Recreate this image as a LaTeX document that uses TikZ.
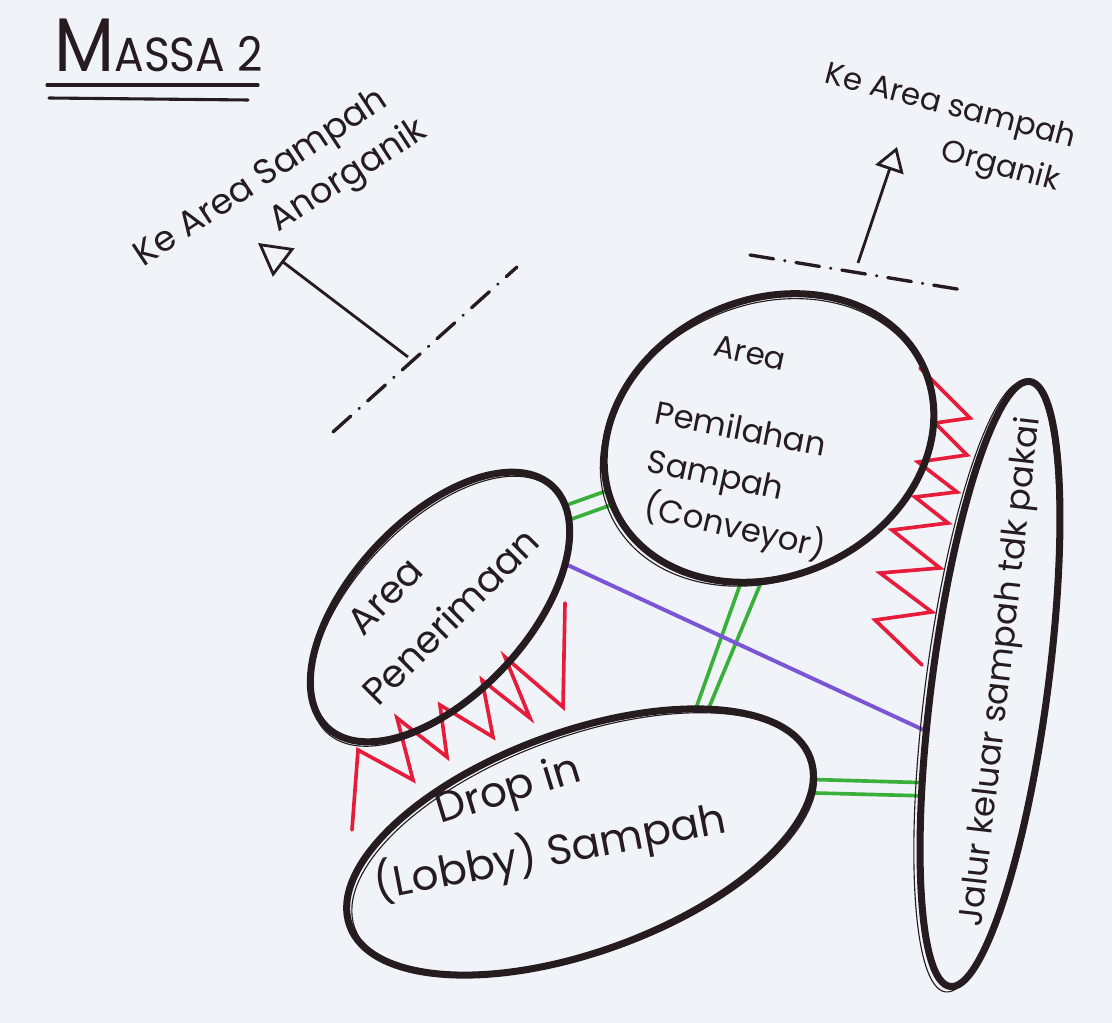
\documentclass[tikz,border=0pt]{standalone}
\usepackage{fontspec}
\setmainfont{Poppins}
\usetikzlibrary{shapes.geometric,arrows.meta}
\pgfdeclarelayer{paper}
\pgfdeclarelayer{links}
\pgfsetlayers{paper,links,main}
\definecolor{paper}{RGB}{240,244,249}
\definecolor{ink}{RGB}{38,28,32}
\definecolor{zigred}{RGB}{230,28,58}
\definecolor{linkgreen}{RGB}{58,176,58}
\definecolor{linkpurple}{RGB}{122,86,214}

\begin{document}
\begin{tikzpicture}[x=0.025cm, y=-0.025cm,
  region/.style 2 args={ellipse, draw=ink, line width=5pt, inner sep=0pt,
    outer sep=0pt, minimum width=#1, minimum height=#2},
  trace/.style={draw=ink, line width=0.8pt},
  hand/.style={text=ink, inner sep=0pt, font=\fontsize{#1}{#1}\selectfont},
  underline/.style={draw=ink, line width=2.2pt, line cap=round},
  boundary/.style={draw=ink, line width=2.4pt, line cap=round,
    dash pattern=on 17pt off 8pt on 0.1pt off 8pt},
  pointer/.style={draw=ink, line width=2pt},
  zigzag/.style={draw=zigred, line width=2.6pt, line cap=round},
  greenlink/.style={draw=linkgreen, line width=2.6pt},
  purplelink/.style={draw=linkpurple, line width=2.8pt, line cap=round}]

\useasboundingbox (0,0) rectangle (1112,1023);
\begin{pgfonlayer}{paper}
  \fill[paper] (0,0) rectangle (1112,1023);
\end{pgfonlayer}

% title
\node[hand=34, anchor=base west] (title) at (54,72)
  {\scalebox{0.92}[1]{{\fontsize{54}{54}\selectfont M}ASSA 2}};
\draw[underline] (47,85) -- (258,85);
\draw[underline] (49,98) -- (248,100);

% exits to the waste areas
\node[hand=25, rotate=33.5] (anoLa) at (262,179) {Ke Area Sampah};
\node[hand=25, rotate=33] (anoLb) at (349,177) {Anorganik};
\coordinate (anoA) at (333,432);
\coordinate (anoB) at (517,267);
\coordinate (anoTail) at (408,357);
\coordinate (anoTip) at (258,243);
\draw[boundary] (anoA) -- (anoB);
\draw[pointer, -{Triangle[open, length=23pt, width=25pt]}] (anoTail) -- (anoTip);

\node[hand=22, rotate=-14.5] (orgLa) at (950,108) {Ke Area sampah};
\node[hand=22, rotate=-15] (orgLb) at (1000,168) {Organik};
\coordinate (orgA) at (750,255);
\coordinate (orgB) at (963,290);
\coordinate (orgTail) at (858,263);
\coordinate (orgTip) at (897,147);
\draw[boundary] (orgA) -- (orgB);
\draw[pointer, -{Triangle[open, length=17pt, width=21pt]}] (orgTail) -- (orgTip);

% zones
\node[region={8.5cm}{6.9cm}, rotate=25] (pem) at (769,438) {};
\node[region={8.25cm}{4.4cm}, rotate=47] (pen) at (440,607) {};
\node[region={12.25cm}{5.5cm}, rotate=20] (drop) at (580,842) {};
\node[region={15.25cm}{2.9cm}, rotate=82.5] (jal) at (990,684) {};

% second pen strokes along the outlines
\begin{scope}[shift={(pem.center)}, rotate=25]
  \draw[trace] (-4,3) ellipse [x radius=4.3cm, y radius=3.42cm];
\end{scope}
\begin{scope}[shift={(pen.center)}, rotate=47]
  \draw[trace] (-3,3) ellipse [x radius=4.15cm, y radius=2.16cm];
\end{scope}
\begin{scope}[shift={(drop.center)}, rotate=20]
  \draw[trace] (3,4) ellipse [x radius=6.1cm, y radius=2.72cm];
\end{scope}
\begin{scope}[shift={(jal.center)}, rotate=82.5]
  \draw[trace] (-3,-4) ellipse [x radius=7.7cm, y radius=1.5cm];
\end{scope}

% zone labels
\node[hand=22, rotate=-12] (pemLa) at (750,353) {Area};
\node[hand=23, rotate=-11] (pemLb) at (741,428) {Pemilahan};
\node[hand=23, rotate=-12] (pemLc) at (715,478) {Sampah};
\node[hand=23, rotate=-13] (pemLd) at (735,527) {(Conveyor)};

\node[hand=27, rotate=46] (penLa) at (385,596) {Area};
\node[hand=27, rotate=45] (penLb) at (450,616) {Penerimaan};

\node[hand=30, rotate=17] (dropLa) at (509,792) {Drop in};
\node[hand=30, rotate=11] (dropLb) at (550,852) {(Lobby) Sampah};

\node[hand=24, rotate=83.5] (jalL) at (1002,672) {Jalur keluar sampah tdk pakai};

% links and buffers, kept under the outlines
\begin{pgfonlayer}{links}
  \draw[greenlink] (pen.352) -- (pem.173);
  \draw[greenlink] (pen.347) -- (pem.178);
  \draw[greenlink] (pem.234) -- (drop.29);
  \draw[greenlink] (pem.242) -- (drop.26);
  \draw[greenlink] (drop.355) -- (jal.153);
  \draw[greenlink] (drop.352) -- (jal.156);
  \draw[purplelink] (pen.332) -- (jal.134);

  \draw[zigzag] (352,830) -- (358,750) -- (413,780) -- (397,718) -- (447,757)
    -- (440,705) -- (493,737) -- (482,680) -- (530,718) -- (505,657)
    -- (563,707) -- (565,603);
  \draw[zigzag] (920,368) -- (970,418) -- (935,423) -- (967,455) -- (918,462)
    -- (957,492) -- (915,497) -- (948,523) -- (892,530) -- (940,568)
    -- (880,573) -- (932,612) -- (875,620) -- (922,665);
\end{pgfonlayer}
\end{tikzpicture}
\end{document}
